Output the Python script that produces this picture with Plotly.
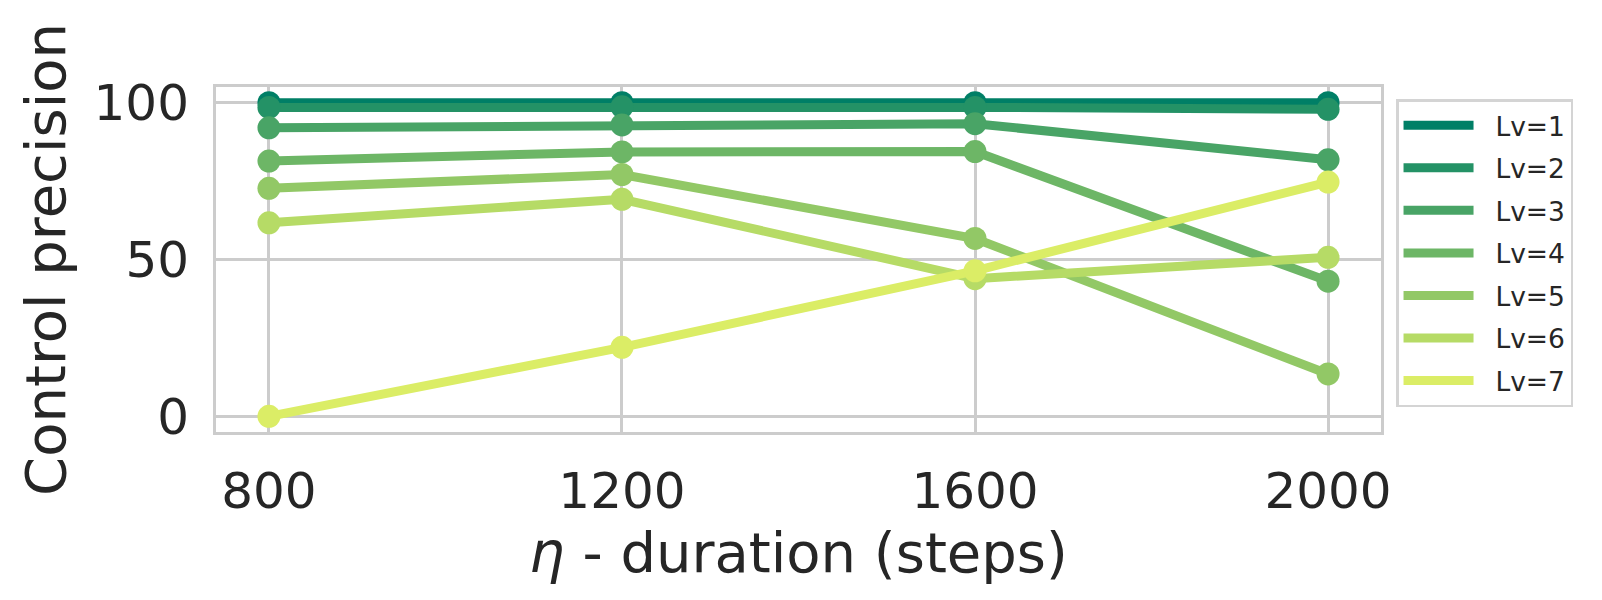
import plotly.graph_objects as go

durations = [800, 1200, 1600, 2000]
levels = ["Lv=1", "Lv=2", "Lv=3", "Lv=4", "Lv=5", "Lv=6", "Lv=7"]
lv1 = [100.0, 100.0, 100.0, 100.0]
lv2 = [98.5, 98.7, 98.5, 97.9]
lv3 = [92.0, 92.9, 93.3, 81.8]
lv4 = [81.4, 84.3, 84.4, 43.1]
lv5 = [72.7, 77.1, 56.7, 13.5]
lv6 = [61.7, 69.2, 43.9, 50.7]
lv7 = [0.0, 22.0, 46.4, 74.7]
series = [lv1, lv2, lv3, lv4, lv5, lv6, lv7]
colors = ["#007f66", "#249266", "#49a466", "#6db666", "#92c866", "#b6db66", "#dbed66"]
y_ticks = [0, 50, 100]

fig = go.Figure()
for i, (name, vals, col) in enumerate(zip(levels, series, colors)):
    fig.add_trace(go.Scatter(
        x=durations, y=vals, mode="lines", name="\u00a0\u00a0" + name,
        line=dict(color=col, width=9), legendgroup=name,
    ))
    fig.add_trace(go.Scatter(
        x=durations, y=vals, mode="markers", name=name, showlegend=False,
        marker=dict(color=col, size=23), legendgroup=name,
    ))

tick_font = dict(family="DejaVu Sans", size=50, color="#262626")
title_font = dict(family="DejaVu Sans", size=56, color="#262626")

# the page body adds a small offset, so margins are shifted to compensate
fig.update_layout(
    width=1602, height=600,
    margin=dict(l=208, r=229, t=79, b=176),
    paper_bgcolor="white", plot_bgcolor="white",
    font=dict(family="DejaVu Sans", color="#262626"),
    legend=dict(
        x=1.0129, y=0.9652, xanchor="left", yanchor="top",
        font=dict(family="DejaVu Sans", size=26.5, color="#262626"),
        bordercolor="#d4d4d4", borderwidth=2.5, bgcolor="white",
        tracegroupgap=5.1, itemwidth=70,
    ),
)
fig.update_xaxes(
    range=[740, 2060], tickvals=durations, ticktext=[str(d) for d in durations],
    tickfont=tick_font, showgrid=True, gridcolor="#cccccc", gridwidth=2.5,
    showline=True, mirror=True, linecolor="#cccccc", linewidth=3,
    zeroline=False, ticks="", ticklabelstandoff=13, automargin=False,
    title=dict(text="<i>η</i> - duration (steps)", font=title_font, standoff=14),
)
fig.update_yaxes(
    range=[-5, 105], tickvals=y_ticks, ticktext=[str(v) for v in y_ticks],
    tickfont=tick_font, showgrid=True, gridcolor="#cccccc", gridwidth=2.5,
    showline=True, mirror=True, linecolor="#cccccc", linewidth=3,
    zeroline=False, ticks="", ticklabelstandoff=14, automargin=False,
    title=dict(text="Control precision", font=title_font, standoff=10),
)

fig.write_html("out.html")
